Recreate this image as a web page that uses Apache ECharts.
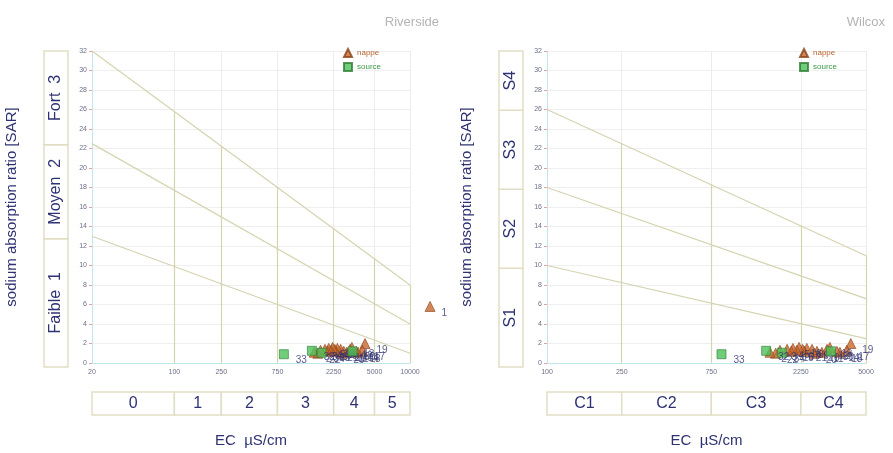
<!DOCTYPE html>
<html><head><meta charset="utf-8">
<script src="https://cdn.jsdelivr.net/npm/echarts@6/dist/echarts.min.js"></script>
<style>html,body{margin:0;padding:0;background:#fff}#c{width:893px;height:453px}</style>
</head><body><div id="c"></div>
<script>
// ---- data ----
const riversideTicks = [20, 100, 250, 750, 2250, 5000, 10000];
const wilcoxTicks = [100, 250, 750, 2250, 5000];
const sarTicksMax = 32;
// diagonal class boundaries [EC, SAR] end points
const riversideLines = [[[20, 32], [10000, 8]], [[20, 22.5], [10000, 4]], [[20, 13], [10000, 1]]];
const wilcoxLines = [[[100, 26], [5000, 11]], [[100, 18], [5000, 6.6]], [[100, 10], [5000, 2.5]]];
// vertical salinity boundaries: [EC, top SAR]
const riversideVerticals = [[100, 25.8], [250, 22.2], [750, 18], [2250, 13.8], [5000, 10.7], [10000, 8]];
const wilcoxVerticals = [[250, 22.5], [750, 18.3], [2250, 14.1], [5000, 11]];
// class boxes
const riversideSodium = [['Faible  1', 0, 13], ['Moyen  2', 13, 22.5], ['Fort  3', 22.5, 32]];
const wilcoxSodium = [['S1', 0, 10], ['S2', 10, 18], ['S3', 18, 26], ['S4', 26, 32]];
const riversideSalinity = [['0', 20, 100], ['1', 100, 250], ['2', 250, 750], ['3', 750, 2250], ['4', 2250, 5000], ['5', 5000, 10000]];
const wilcoxSalinity = [['C1', 100, 250], ['C2', 250, 750], ['C3', 750, 2250], ['C4', 2250, 5000]];
// samples
const nappeEC  = [14800, 4150, 3950, 3630, 3500, 3210, 3100, 2910, 2740, 2650, 2580, 2420, 2350, 2300, 2200, 2140, 2040, 2000, 1900, 1740, 1650, 1540];
const nappeSAR = [5.8,   2.0,  1.3,  1.1,  1.2,  1.6,  1.4,  1.1,  1.2,  1.0,  1.4,  1.5,  1.2,  1.4,  1.6,  1.3,  1.5,  1.2,  1.4,  1.3,  1.0,  1.1];
const nappeId  = ['1', '19', '17', '18', '14', '13', '12', '11', '10', '20', '9', '8', '21', '7', '16', '6', '5', '15', '4', '3', '22', '2'];
const sourceEC  = [850, 1470, 1780, 3250];
const sourceSAR = [0.9, 1.25, 1.05, 1.2];
const sourceId  = ['33', '32', '34', '30'];

// ---- styles ----
const navy = '#2e3272';
const tan = '#d6d3b0';
const boxBorder = '#e2dec6';
const nappeColor = '#c8692f', nappeBorder = '#8a4418';
const sourceColor = '#4cc25a', sourceBorder = '#2f7d35';

function pts(xs, ys, ids) { return xs.map((x, i) => ({ value: [x, ys[i]], name: ids[i] })); }

function mainX(gi, min, max, ticks) {
  return {
    type: 'log', logBase: 10, gridIndex: gi, min: min, max: max,
    name: 'EC  µS/cm', nameLocation: 'middle', nameGap: 70,
    nameTextStyle: { fontSize: 15, color: navy, fontFamily: 'Liberation Sans' },
    axisLine: { show: true, lineStyle: { color: '#bfe6ea' } },
    axisTick: { show: false, customValues: ticks },
    axisLabel: { customValues: ticks, fontSize: 7, color: '#6a6f88', margin: 6, formatter: v => String(Math.round(v)) },
    splitLine: { show: true, lineStyle: { color: '#ececec' } },
    minorSplitLine: { show: false }
  };
}
function mainY(gi) {
  return {
    type: 'value', gridIndex: gi, min: 0, max: sarTicksMax, interval: 2,
    name: 'sodium absorption ratio [SAR]', nameLocation: 'middle', nameGap: 73, nameRotate: 90,
    nameTextStyle: { fontSize: 15, color: navy, fontFamily: 'Liberation Sans' },
    axisLine: { show: true, lineStyle: { color: '#bfe6ea' } },
    axisTick: { show: true, length: 3, lineStyle: { color: '#eaa0a0' } },
    axisLabel: { fontSize: 7, color: '#6a6f88', margin: 5 },
    splitLine: { show: true, lineStyle: { color: '#efefef' } }
  };
}
function hiddenAxis(type, gi, min, max) {
  const a = { type: type, gridIndex: gi, min: min, max: max, show: false };
  if (type === 'log') a.logBase = 10;
  return a;
}

const series = [];
function addPanel(gMain, gSide, gBottom, lines, verticals, sodium, salinity) {
  lines.forEach(l => series.push({
    type: 'line', xAxisIndex: gMain, yAxisIndex: gMain, data: l, symbol: 'none', silent: true,
    lineStyle: { color: tan, width: 1.2 }, z: 2
  }));
  series.push({
    type: 'line', xAxisIndex: gMain, yAxisIndex: gMain, data: [], silent: true,
    markLine: {
      symbol: 'none', silent: true, label: { show: false },
      lineStyle: { color: tan, width: 1.2, type: 'solid' },
      data: verticals.map(v => [{ coord: [v[0], 0] }, { coord: [v[0], v[1]] }])
    }
  });
  series.push({
    name: 'nappe', type: 'scatter', xAxisIndex: gMain, yAxisIndex: gMain, clip: false,
    symbol: 'triangle', symbolSize: 10,
    itemStyle: { color: nappeColor, borderColor: nappeBorder, borderWidth: 0.8 },
    label: { show: true, formatter: '{b}', position: 'right', offset: [1, 7], fontSize: 10, color: navy },
    data: pts(nappeEC, nappeSAR, nappeId), z: 5
  });
  series.push({
    name: 'source', type: 'scatter', xAxisIndex: gMain, yAxisIndex: gMain, clip: false,
    symbol: 'rect', symbolSize: 9,
    itemStyle: { color: sourceColor, borderColor: sourceBorder, borderWidth: 0.8 },
    label: { show: true, formatter: '{b}', position: 'right', offset: [2, 6], fontSize: 10, color: navy },
    data: pts(sourceEC, sourceSAR, sourceId), z: 6
  });
  series.push({
    type: 'line', xAxisIndex: gSide, yAxisIndex: gSide, data: [], silent: true,
    markArea: {
      silent: true,
      itemStyle: { color: '#ffffff', borderColor: boxBorder, borderWidth: 1.5 },
      label: { show: true, position: 'inside', rotate: 90, fontSize: 16, color: navy, fontFamily: 'Liberation Sans' },
      data: sodium.map(s => [{ name: s[0], xAxis: 0, yAxis: s[1] }, { xAxis: 1, yAxis: s[2] }])
    }
  });
  series.push({
    type: 'line', xAxisIndex: gBottom, yAxisIndex: gBottom, data: [], silent: true,
    markArea: {
      silent: true,
      itemStyle: { color: '#ffffff', borderColor: boxBorder, borderWidth: 1.5 },
      label: { show: true, position: 'inside', fontSize: 16, color: navy, fontFamily: 'Liberation Sans' },
      data: salinity.map(s => [{ name: s[0], xAxis: s[1], yAxis: 0 }, { xAxis: s[2], yAxis: 1 }])
    }
  });
}
addPanel(0, 2, 4, riversideLines, riversideVerticals, riversideSodium, riversideSalinity);
addPanel(1, 3, 5, wilcoxLines, wilcoxVerticals, wilcoxSodium, wilcoxSalinity);

const legendData = [
  { name: 'nappe', icon: 'triangle', textStyle: { color: '#b5652f' } },
  { name: 'source', icon: 'rect', textStyle: { color: '#3a9a48' } }
];
const option = {
  animation: false,
  backgroundColor: '#ffffff',
  textStyle: { fontFamily: 'Liberation Sans' },
  title: [
    { text: 'Riverside', right: 449, top: 11, textStyle: { fontSize: 13, fontWeight: 'normal', color: '#b4b4b4' } },
    { text: 'Wilcox', right: 3, top: 11, textStyle: { fontSize: 13, fontWeight: 'normal', color: '#b4b4b4' } }
  ],
  legend: [
    { data: legendData, left: 338, top: 43, orient: 'vertical', itemWidth: 8, itemHeight: 8, itemGap: 4, textStyle: { fontSize: 8 }, selectedMode: false },
    { data: legendData, left: 794, top: 43, orient: 'vertical', itemWidth: 8, itemHeight: 8, itemGap: 4, textStyle: { fontSize: 8 }, selectedMode: false }
  ],
  grid: [
    { left: 92, right: 483, top: 51, bottom: 83 },
    { left: 547, right: 27, top: 51, bottom: 83 },
    { left: 44, width: 24, top: 51, bottom: 86 },
    { left: 499, width: 24, top: 51, bottom: 86 },
    { left: 92, right: 483, top: 392, height: 23 },
    { left: 547, right: 27, top: 392, height: 23 }
  ],
  xAxis: [
    mainX(0, 20, 10000, riversideTicks),
    mainX(1, 100, 5000, wilcoxTicks),
    hiddenAxis('value', 2, 0, 1),
    hiddenAxis('value', 3, 0, 1),
    hiddenAxis('log', 4, 20, 10000),
    hiddenAxis('log', 5, 100, 5000)
  ],
  yAxis: [
    mainY(0), mainY(1),
    hiddenAxis('value', 2, 0, 32),
    hiddenAxis('value', 3, 0, 32),
    hiddenAxis('value', 4, 0, 1),
    hiddenAxis('value', 5, 0, 1)
  ],
  series: series
};
echarts.init(document.getElementById('c')).setOption(option);
</script>
</body></html>
